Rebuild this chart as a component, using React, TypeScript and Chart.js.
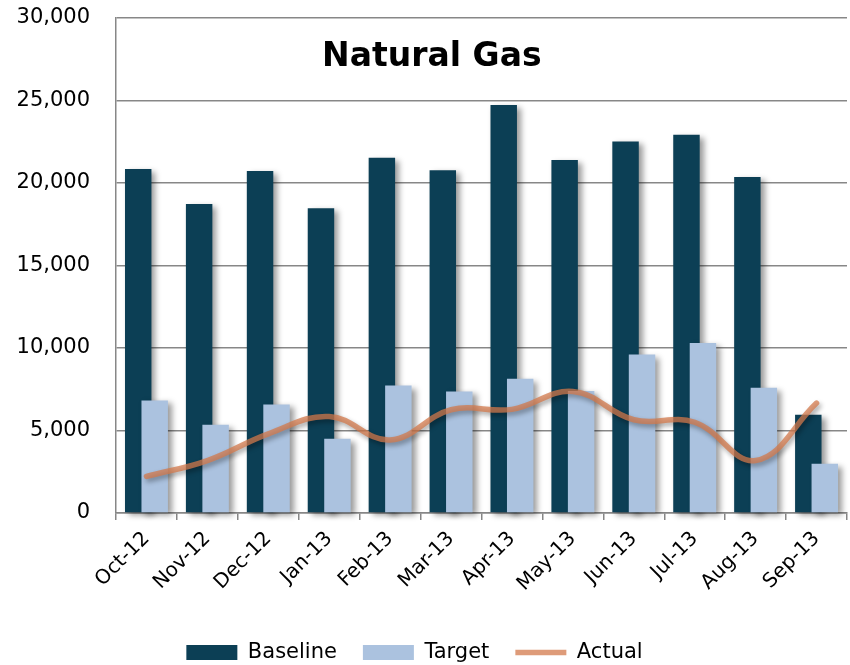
import React, { useEffect, useRef } from 'react';
import { Chart, registerables } from 'chart.js';

Chart.register(...registerables);

const months = ['Oct-12', 'Nov-12', 'Dec-12', 'Jan-13', 'Feb-13', 'Mar-13', 'Apr-13', 'May-13', 'Jun-13', 'Jul-13', 'Aug-13', 'Sep-13'];
const baseline = [20850, 18730, 20720, 18470, 21530, 20780, 24730, 21400, 22520, 22920, 20370, 5950];
const target = [6820, 5350, 6580, 4500, 7720, 7370, 8140, 7390, 9600, 10300, 7590, 2980];
const actual = [2220, 3180, 4800, 5850, 4430, 6260, 6280, 7370, 5650, 5500, 3180, 6660];
const chartTitle = 'Natural Gas';
const seriesNames = ['Baseline', 'Target', 'Actual'];

const FONT = '"DejaVu Sans", sans-serif';
const GRID = '#878787';

const orderedShadow = {
  id: 'orderedShadow',
  beforeDatasetsDraw(chart: any) {
    [0, 1, 2].forEach((i) => chart._drawDataset(chart.getDatasetMeta(i)));
    return false;
  },
  beforeDatasetDraw(chart: any, args: any) {
    const ctx = chart.ctx;
    ctx.save();
    if (args.index === 2) {
      ctx.shadowColor = 'rgba(0,0,0,0.45)';
      ctx.shadowBlur = 5;
      ctx.shadowOffsetX = 2;
      ctx.shadowOffsetY = 3;
    } else {
      ctx.shadowColor = 'rgba(0,0,0,0.4)';
      ctx.shadowBlur = 6;
      ctx.shadowOffsetX = 4;
      ctx.shadowOffsetY = 3;
    }
  },
  afterDatasetDraw(chart: any) {
    chart.ctx.restore();
  },
};

const legendShift = {
  id: 'legendShift',
  afterLayout(chart: any) {
    if (chart.legend) chart.legend.left -= 18;
  },
};

const titlePlugin = {
  id: 'innerTitle',
  afterDraw(chart: any) {
    const { ctx, chartArea } = chart;
    ctx.save();
    ctx.font = `bold 33px ${FONT}`;
    ctx.fillStyle = '#000';
    ctx.textAlign = 'center';
    ctx.textBaseline = 'middle';
    const x = chartArea.left + (chartArea.right - chartArea.left) * 0.432;
    const y = chartArea.top + (chartArea.bottom - chartArea.top) * 0.08;
    ctx.fillText(chartTitle, x, y);
    ctx.restore();
  },
};

export default function App() {
  const ref = useRef<HTMLCanvasElement>(null);

  useEffect(() => {
    document.body.style.margin = '0';
    const chart = new Chart(ref.current as HTMLCanvasElement, {
      type: 'bar',
      data: {
        labels: months,
        datasets: [
          {
            type: 'bar',
            label: seriesNames[0],
            data: baseline,
            backgroundColor: '#0C3F55',
            borderWidth: 0,
            pointStyle: 'rect',
            categoryPercentage: 0.541,
            barPercentage: 1.606,
            clip: false,
          } as any,
          {
            type: 'bar',
            label: seriesNames[1],
            data: target,
            backgroundColor: '#ABC2DF',
            borderWidth: 0,
            pointStyle: 'rect',
            categoryPercentage: 0.541,
            barPercentage: 1.606,
            clip: false,
          } as any,
          {
            type: 'line',
            label: seriesNames[2],
            data: actual,
            borderColor: 'rgba(210,120,74,0.74)',
            backgroundColor: 'rgba(210,120,74,0.74)',
            borderWidth: 5.5,
            borderCapStyle: 'round',
            tension: 0.4,
            pointRadius: 0,
            pointStyle: 'line',
            fill: false,
          } as any,
        ],
      },
      options: {
        animation: false,
        responsive: true,
        maintainAspectRatio: false,
        layout: { padding: { top: 18, right: 3, left: 0, bottom: -8 } },
        plugins: {
          title: { display: false },
          tooltip: { enabled: false },
          legend: {
            position: 'bottom',
            labels: {
              usePointStyle: true,
              pointStyleWidth: 51,
              boxHeight: 15,
              padding: 26,
              color: '#000',
              font: { family: FONT, size: 21 },
            },
          },
        },
        scales: {
          x: {
            offset: true,
            afterFit(scale: any) {
              scale.height = 103;
            },
            grid: {
              offset: true,
              drawOnChartArea: false,
              drawTicks: true,
              tickLength: 7,
              color: GRID,
              lineWidth: 1.5,
            },
            border: { color: GRID, width: 1.5 },
            ticks: {
              minRotation: 45,
              maxRotation: 45,
              color: '#000',
              padding: 7,
              font: { family: FONT, size: 20 },
            },
          },
          y: {
            min: 0,
            max: 30000,
            afterFit(scale: any) {
              scale.width = 116;
            },
            grid: {
              color: GRID,
              lineWidth: 1.5,
              drawTicks: true,
              tickLength: 22,
              tickColor: 'rgba(0,0,0,0)',
            },
            border: { color: GRID, width: 1.5 },
            ticks: {
              stepSize: 5000,
              padding: 4,
              color: '#000',
              font: { family: FONT, size: 21 },
              callback: (v: any) => Number(v).toLocaleString('en-US'),
            },
          },
        },
      },
      plugins: [orderedShadow, legendShift, titlePlugin],
    });
    return () => chart.destroy();
  }, []);

  return (
    <div style={{ width: 850, height: 665, position: 'relative' }}>
      <canvas ref={ref} />
    </div>
  );
}
